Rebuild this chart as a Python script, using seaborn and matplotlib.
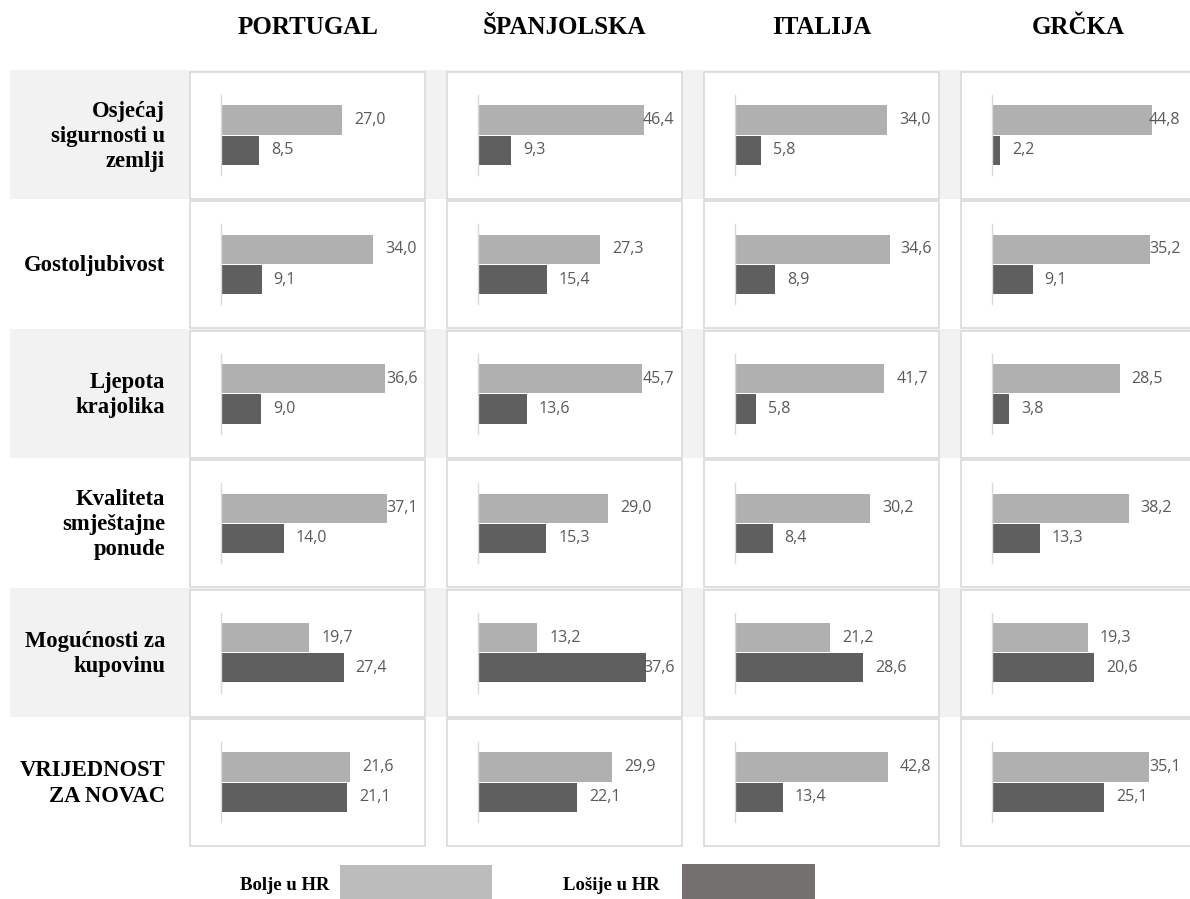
import pandas as pd
import matplotlib
matplotlib.use("Agg")
import matplotlib.pyplot as plt
from matplotlib.patches import Rectangle
import seaborn as sns

# values (Bolje u HR / Lošije u HR), rows top to bottom
kategorije = ["Osjećaj\nsigurnosti u\nzemlji", "Gostoljubivost", "Ljepota\nkrajolika",
              "Kvaliteta\nsmještajne\nponude", "Mogućnosti za\nkupovinu", "VRIJEDNOST\nZA NOVAC"]
zemlje = ["PORTUGAL", "ŠPANJOLSKA", "ITALIJA", "GRČKA"]
serije = ["Bolje u HR", "Lošije u HR"]

bolje_portugal = [27.0, 34.0, 36.6, 37.1, 19.7, 21.6]
bolje_spanjolska = [46.4, 27.3, 45.7, 29.0, 13.2, 29.9]
bolje_italija = [34.0, 34.6, 41.7, 30.2, 21.2, 42.8]
bolje_grcka = [44.8, 35.2, 28.5, 38.2, 19.3, 35.1]

losije_portugal = [8.5, 9.1, 9.0, 14.0, 27.4, 21.1]
losije_spanjolska = [9.3, 15.4, 13.6, 15.3, 37.6, 22.1]
losije_italija = [5.8, 8.9, 5.8, 8.4, 28.6, 13.4]
losije_grcka = [2.2, 9.1, 3.8, 13.3, 20.6, 25.1]

bolje = [bolje_portugal, bolje_spanjolska, bolje_italija, bolje_grcka]
losije = [losije_portugal, losije_spanjolska, losije_italija, losije_grcka]

# axis maximum of each small chart (Excel autoscaled each one separately)
xmax = [[40, 40, 40, 40, 40, 30],
        [50, 40, 50, 40, 40, 40],
        [40, 40, 50, 40, 40, 50],
        [50, 40, 40, 50, 36, 40]]

# ---- layout in pixels ----
W, H = 1190, 899
col_x = [190, 447, 704, 961]
panel_w = 235
row_top = [72, 201.4, 330.8, 460.2, 589.6, 719]
panel_h = 127
plot_off, plot_w = 31, 179

svijetla = "#b0b0b0"
tamna = "#5f5f5f"
rub = "#d9d9d9"

fig = plt.figure(figsize=(W / 100, H / 100), dpi=100)


def box(x, y, w, h):
    # pixel box (top-left origin) -> figure fraction
    return [x / W, 1 - (y + h) / H, w / W, h / H]


def fmt(v):
    return f"{v:.1f}".replace(".", ",")


# gray bands behind rows 1, 3, 5
for r in range(0, 6, 2):
    l, b, w, h = box(10, row_top[r] - 2, 1180, panel_h + 2)
    fig.add_artist(Rectangle((l, b), w, h, transform=fig.transFigure,
                             facecolor="#f2f2f2", edgecolor="none", zorder=-3))

# column headers
for c, naziv in enumerate(zemlje):
    fig.text((col_x[c] + panel_w / 2) / W, 1 - 28 / H, naziv, ha="center", va="center",
             family="Liberation Serif", fontweight="bold", fontsize=18)

# row labels
for r, kat in enumerate(kategorije):
    fig.text(165 / W, 1 - (row_top[r] + panel_h / 2 + 1) / H, kat, ha="right", va="center",
             multialignment="right", linespacing=1.25,
             family="Liberation Serif", fontweight="bold", fontsize=16.3)

for c in range(4):
    right_lim = min(col_x[c] + panel_w, W - 2) - 7
    for r in range(6):
        # panel frame
        l, b, w, h = box(col_x[c], row_top[r], panel_w, panel_h)
        fig.add_artist(Rectangle((l, b), w, h, transform=fig.transFigure,
                                 facecolor="white", edgecolor=rub, linewidth=1.2, zorder=-2))

        vals = [bolje[c][r], losije[c][r]]
        df = pd.DataFrame({"serija": serije, "vrijednost": vals})
        ax = fig.add_axes(box(col_x[c] + plot_off, row_top[r] + 23, plot_w, 80))
        sns.barplot(data=df, y="serija", x="vrijednost", hue="serija", order=serije,
                    hue_order=serije, palette=[svijetla, tamna], orient="h",
                    width=0.97, linewidth=0, legend=False, ax=ax)
        for cont, v in zip(ax.containers, vals):
            # labels sit outside the bar end, pushed back if they would leave the panel
            bar_end = col_x[c] + plot_off + plot_w * v / xmax[c][r]
            pad_px = min(12, right_lim - 32 - bar_end)
            ax.bar_label(cont, fmt=fmt, padding=pad_px * 0.72, fontsize=11.5,
                         color="#595959", family="Open Sans")
        ax.set_xlim(0, xmax[c][r])
        ax.set_ylim(1.82, -0.83)
        ax.set_xticks([])
        ax.set_yticks([])
        ax.set_xlabel("")
        ax.set_ylabel("")
        ax.patch.set_alpha(0)
        for s in ["top", "right", "bottom"]:
            ax.spines[s].set_visible(False)
        ax.spines["left"].set_color(rub)
        ax.spines["left"].set_linewidth(1)

# legend at the bottom
fig.text(285 / W, 1 - 885 / H, "Bolje u HR", ha="center", va="center",
         family="Liberation Serif", fontweight="bold", fontsize=13.5)
fig.text(611 / W, 1 - 885 / H, "Lošije u HR", ha="center", va="center",
         family="Liberation Serif", fontweight="bold", fontsize=13.5)
l, b, w, h = box(340, 865, 152, 36)
fig.add_artist(Rectangle((l, b), w, h, transform=fig.transFigure,
                         facecolor="#bcbcbc", edgecolor="none"))
l, b, w, h = box(682, 864, 133, 37)
fig.add_artist(Rectangle((l, b), w, h, transform=fig.transFigure,
                         facecolor="#757070", edgecolor="none"))

fig.savefig("out.png", dpi=100)
